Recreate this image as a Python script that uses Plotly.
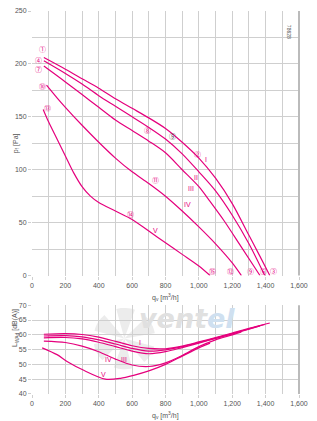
import plotly.graph_objects as go
import math

# ---------------- data ----------------
# fan curves (top): q_v [m3/h], p_f [Pa]
q1 = [71, 200, 300, 400, 500, 600, 700, 800, 900, 1000, 1100, 1200, 1300, 1360, 1425]
p1 = [206, 195, 186, 177, 167, 158, 149, 139, 126, 111, 92, 68, 38, 20, 0]
q2 = [71, 200, 300, 400, 500, 600, 700, 800, 900, 1000, 1100, 1200, 1300, 1395]
p2 = [203, 191, 181, 170, 160, 150, 140, 129, 115, 98, 80, 57, 30, 0]
q3 = [71, 200, 300, 400, 500, 600, 700, 800, 900, 1000, 1067, 1150, 1250, 1366]
p3 = [198, 183, 171, 159, 147, 137, 127, 116, 100, 84, 70, 52, 28, 0]
q4 = [87, 150, 200, 300, 400, 500, 600, 700, 800, 900, 1000, 1100, 1200, 1255]
p4 = [180, 168, 159, 142, 126, 111, 98, 87, 75, 61, 46, 30, 12, 0]
q5 = [67, 100, 150, 200, 250, 300, 350, 400, 500, 600, 700, 800, 900, 1000, 1067]
p5 = [157, 145, 129, 113, 97, 84, 75, 69, 61, 53, 42, 31, 20, 9, 0]

# sound curves (bottom): L_WAd [dB(A)]
lq1 = [71, 200, 300, 400, 500, 600, 700, 800, 900, 1000, 1100, 1200, 1300, 1425]
L1 = [60.2, 60.4, 60.1, 59.2, 57.8, 56.3, 55.4, 55.3, 56.2, 57.6, 59.1, 60.6, 62.2, 64.0]
lq2 = [71, 200, 300, 400, 500, 600, 700, 800, 900, 1000, 1100, 1200, 1300, 1395]
L2 = [59.6, 59.7, 59.3, 58.3, 56.9, 55.4, 54.5, 54.9, 56.0, 57.4, 58.9, 60.4, 62.0, 63.5]
lq3 = [71, 200, 300, 400, 500, 600, 700, 800, 900, 1000, 1100, 1200, 1300, 1366]
L3 = [59.0, 59.1, 58.6, 57.5, 56.0, 54.5, 53.6, 54.3, 55.7, 57.2, 58.8, 60.3, 61.9, 63.0]
lq4 = [71, 200, 300, 400, 500, 600, 700, 800, 900, 1000, 1100, 1200, 1255]
L4 = [57.9, 57.4, 56.2, 54.3, 51.8, 49.8, 49.3, 50.5, 53.0, 56.0, 58.3, 60.0, 61.0]
lq5 = [61, 150, 210, 310, 440, 530, 609, 700, 800, 900, 1000, 1067]
L5 = [55.6, 53.3, 51.0, 48.0, 45.0, 45.3, 46.3, 47.8, 50.0, 52.8, 55.6, 57.2]

x_ticks = [0, 200, 400, 600, 800, 1000, 1200, 1400, 1600]
x_ticklabels = ["0", "200", "400", "600", "800", "1,000", "1,200", "1,400", "1,600"]
p_ticks = [0, 50, 100, 150, 200, 250]
L_ticks = [40, 45, 50, 55, 60, 65, 70]

# circled point labels (q, p)
pt_labels = ["①", "④", "⑦", "⑩", "⑬", "⑧", "⑤", "②", "⑪", "⑭", "⑮", "⑫", "⑨", "⑥", "③"]
pt_q = [60, 40, 40, 60, 90, 690, 840, 990, 740, 590, 1080, 1190, 1310, 1390, 1450]
pt_p = [214, 204, 195, 179, 158, 138, 132, 115, 90, 58, 4, 4, 4, 4, 4]
pt_gray = [False, False, False, False, False, False, True, False, False, False, False, False, False, False, False]

curve_names = ["I", "II", "III", "IV", "V"]
cn_q = [1040, 985, 955, 930, 740]
cn_p = [110, 93, 82, 67, 43]
lcn_names = ["I", "IV", "III", "V"]
lcn_q = [650, 460, 550, 430]
lcn_L = [57.5, 51.5, 51.5, 46.5]

PINK = "#e5007d"
GRID = "#cfcfcf"
TXT = "#555555"
FONT = "Liberation Sans, Arial, sans-serif"
CIRC_FONT = "Noto Sans CJK JP, DejaVu Sans, sans-serif"

fig = go.Figure()
for q, p in [(q1, p1), (q2, p2), (q3, p3), (q4, p4), (q5, p5)]:
    fig.add_trace(go.Scatter(x=q, y=p, mode="lines", line=dict(color=PINK, width=1.2, shape="spline", smoothing=0.8),
                             xaxis="x", yaxis="y", showlegend=False, hoverinfo="skip"))
for q, L in [(lq1, L1), (lq2, L2), (lq3, L3), (lq4, L4), (lq5, L5)]:
    fig.add_trace(go.Scatter(x=q, y=L, mode="lines", line=dict(color=PINK, width=1.2, shape="spline", smoothing=0.8),
                             xaxis="x2", yaxis="y2", showlegend=False, hoverinfo="skip"))

# geometry (paper) : plot area from px y=7 to 394 (height 387)
W, H = 317, 421
ml, mr, mt, mb = 31.5, 18, 7, 27
ph = H - mt - mb
top_dom = [(394 - 274.3) / ph, 1.0]
bot_dom = [0.0, (394 - 304.3) / ph]

axis_common = dict(showgrid=True, gridcolor=GRID, gridwidth=1, zeroline=False, showline=False,
                   ticks="outside", ticklen=3, tickcolor=GRID, tickfont=dict(size=7, color=TXT, family=FONT))

fig.update_layout(
    width=W, height=H, margin=dict(l=ml, r=mr, t=mt, b=mb),
    paper_bgcolor="white", plot_bgcolor="white",
    font=dict(family=FONT, color=TXT),
    xaxis=dict(range=[0, 1600], domain=[0, 1], anchor="y", tickvals=x_ticks, ticktext=x_ticklabels,
               minor=dict(dtick=100, showgrid=True, gridcolor=GRID, tick0=0), **axis_common),
    yaxis=dict(range=[0, 250], domain=top_dom, anchor="x", tickvals=p_ticks,
               minor=dict(dtick=25, showgrid=True, gridcolor=GRID, tick0=0), **axis_common),
    xaxis2=dict(range=[0, 1600], domain=[0, 1], anchor="y2", tickvals=x_ticks, ticktext=x_ticklabels,
                minor=dict(dtick=100, showgrid=True, gridcolor=GRID, tick0=0), **axis_common),
    yaxis2=dict(range=[40, 70], domain=bot_dom, anchor="x2", tickvals=L_ticks, **axis_common),
)

ann = []
# point labels
for t, q, p, g in zip(pt_labels, pt_q, pt_p, pt_gray):
    ann.append(dict(x=q, y=p, xref="x", yref="y", text=t, showarrow=False,
                    font=dict(size=7, color=("#444444" if g else PINK), family=CIRC_FONT)))
for t, q, p in zip(curve_names, cn_q, cn_p):
    ann.append(dict(x=q, y=p, xref="x", yref="y", text=t, showarrow=False,
                    font=dict(size=7, color=PINK, family=FONT)))
for t, q, L in zip(lcn_names, lcn_q, lcn_L):
    ann.append(dict(x=q, y=L, xref="x2", yref="y2", text=t, showarrow=False,
                    font=dict(size=7, color=PINK, family=FONT)))

def px_x(px):
    return (px - ml) / (W - ml - mr)

def px_y(py):
    return (H - mb - py) / ph

# axis titles
ann.append(dict(x=px_x(165), y=px_y(290), xref="paper", yref="paper", yanchor="top",
                text="q<sub>v</sub> [m<sup>3</sup>/h]", showarrow=False, font=dict(size=7, color=TXT)))
ann.append(dict(x=px_x(165), y=px_y(409), xref="paper", yref="paper", yanchor="top",
                text="q<sub>v</sub> [m<sup>3</sup>/h]", showarrow=False, font=dict(size=7, color=TXT)))
ann.append(dict(x=px_x(9), y=px_y(141), xref="paper", yref="paper", text="p<sub>f</sub> [Pa]", textangle=-90,
                showarrow=False, font=dict(size=7, color=TXT)))
ann.append(dict(x=px_x(9), y=px_y(349), xref="paper", yref="paper", text="L<sub>WAd</sub> [dB(A)]", textangle=-90,
                showarrow=False, font=dict(size=7, color=TXT)))
ann.append(dict(x=px_x(294), y=px_y(19), xref="paper", yref="paper", text="78628", textangle=90,
                showarrow=False, font=dict(size=5, color=TXT)))
# watermark
ann.append(dict(x=px_x(137), y=px_y(335), xref="paper", yref="paper", xanchor="left",
                text="<b><i>vent</i></b><b><i><span style='color:#cfe0f0'>el</span></i></b>",
                showarrow=False, font=dict(size=27, color="#e0e0e0", family="DejaVu Sans")))
fig.update_layout(annotations=ann)

# fan-like watermark blades
shapes = []
cx, cy, r = 124, 338, 31
for k in range(6):
    a0 = math.radians(k * 60 + 10)
    a1 = math.radians(k * 60 + 45)
    pts = [(cx, cy)]
    for i in range(9):
        a = a0 + (a1 - a0) * i / 8
        pts.append((cx + r * math.cos(a), cy - r * math.sin(a)))
    path = "M " + " L ".join(f"{px_x(x):.4f},{px_y(y):.4f}" for x, y in pts) + " Z"
    shapes.append(dict(type="path", path=path, xref="paper", yref="paper", fillcolor="#ececec",
                       line=dict(width=0), layer="below"))
# right-edge frame lines
shapes.append(dict(type="line", x0=1, x1=1, y0=top_dom[0], y1=1, xref="paper", yref="paper",
                   line=dict(color="#bbbbbb", width=2)))
shapes.append(dict(type="line", x0=1, x1=1, y0=0, y1=bot_dom[1], xref="paper", yref="paper",
                   line=dict(color="#bbbbbb", width=2)))
fig.update_layout(shapes=shapes)

fig.write_html("out.html")
